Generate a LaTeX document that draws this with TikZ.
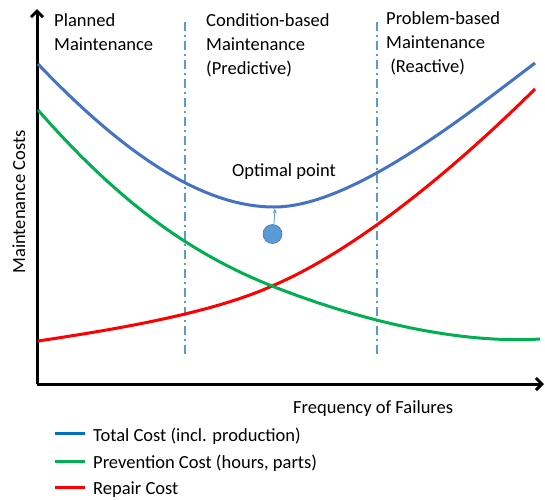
\documentclass[tikz,border=0pt]{standalone}
\usepackage{fontspec}
\setmainfont{Carlito}
\usetikzlibrary{arrows.meta}
\definecolor{tot}{HTML}{4472C4}
\definecolor{prev}{HTML}{00B050}
\definecolor{rep}{HTML}{FF0000}
\definecolor{lblue}{HTML}{5B9BD5}
\definecolor{legblue}{HTML}{0070C0}
\begin{document}
\begin{tikzpicture}[x=1pt,y=-1pt,
  lbl/.style={font=\fontsize{18.5}{24}\selectfont, inner sep=0pt},
  curve/.style={line width=3pt, line join=round},
  divider/.style={lblue, line width=1.6pt, dash pattern=on 9pt off 4pt on 2pt off 4pt},
  axis/.style={line width=3pt, -{Straight Barb[length=6pt,width=12pt,line width=3pt]}},
  legline/.style={line width=3pt}]
\fill[white] (0,0) rectangle (545,499);
\useasboundingbox (0,0) rectangle (545,499);
% dividers
\coordinate (d1t) at (185,22); \coordinate (d1b) at (185,357);
\coordinate (d2t) at (377,22); \coordinate (d2b) at (377,357);
\draw[divider] (d1t) -- (d1b);
\draw[divider] (d2t) -- (d2b);
% axes
\coordinate (o) at (37,384);
\coordinate (ytop) at (37,9);
\coordinate (xend) at (544,384);
\draw[axis] (o) -- (ytop);
\draw[axis] (o) -- (xend);
% curves
\coordinate (cross) at (272,286);
\draw[curve, rep] (38,341) .. controls (118,329) and (212,313) .. (cross)
  .. controls (350,253) and (445,178) .. (535,89);
\draw[curve, prev] (38,110) .. controls (128,213) and (202,258) .. (cross)
  .. controls (330,309) and (440,345) .. (540,339);
\coordinate (optm) at (274,207);
\draw[curve, tot] (38,64) .. controls (120,150) and (200,207) .. (optm)
  .. controls (350,207) and (460,120) .. (535,63);
% optimal point
\node[circle, fill=lblue, draw=tot, line width=0.6pt, minimum size=19pt, inner sep=0pt] (opt) at (272.5,234) {};
\coordinate (optt) at (275,208.5);
\draw[lblue, line width=0.8pt, -{Stealth[length=5pt,width=4pt]}] (opt.north) ++(1.5,0) -- (optt);
\node[lbl, anchor=base] (optl) at (284,176) {Optimal point};
% region labels
\node[lbl, anchor=base west] (pm1) at (54,26) {Planned};
\node[lbl, anchor=base west] (pm2) at (54,50) {Maintenance};
\node[lbl, anchor=base west] (cb1) at (206,26) {Condition-based};
\node[lbl, anchor=base west] (cb2) at (206,50) {Maintenance};
\node[lbl, anchor=base west] (cb3) at (206,74) {(Predictive)};
\node[lbl, anchor=base west] (pb1) at (386,24) {Problem-based};
\node[lbl, anchor=base west] (pb2) at (386,48) {Maintenance};
\node[lbl, anchor=base west] (pb3) at (386,72) {\ (Reactive)};
% axis labels
\node[lbl, rotate=90, anchor=base] (yl) at (25,202) {Maintenance Costs};
\node[lbl, anchor=base west] (xl) at (293,413) {Frequency of Failures};
% legend
\coordinate (l1a) at (55,433); \coordinate (l1b) at (85,433);
\coordinate (l2a) at (55,461); \coordinate (l2b) at (85,461);
\coordinate (l3a) at (55,487); \coordinate (l3b) at (85,487);
\draw[legline, legblue] (l1a) -- (l1b);
\draw[legline, prev] (l2a) -- (l2b);
\draw[legline, rep] (l3a) -- (l3b);
\node[lbl, anchor=base west] (t1) at (93,441) {Total Cost (incl. production)};
\node[lbl, anchor=base west] (t2) at (93,468) {Prevention Cost (hours, parts)};
\node[lbl, anchor=base west] (t3) at (93,494) {Repair Cost};
\end{tikzpicture}
\end{document}
